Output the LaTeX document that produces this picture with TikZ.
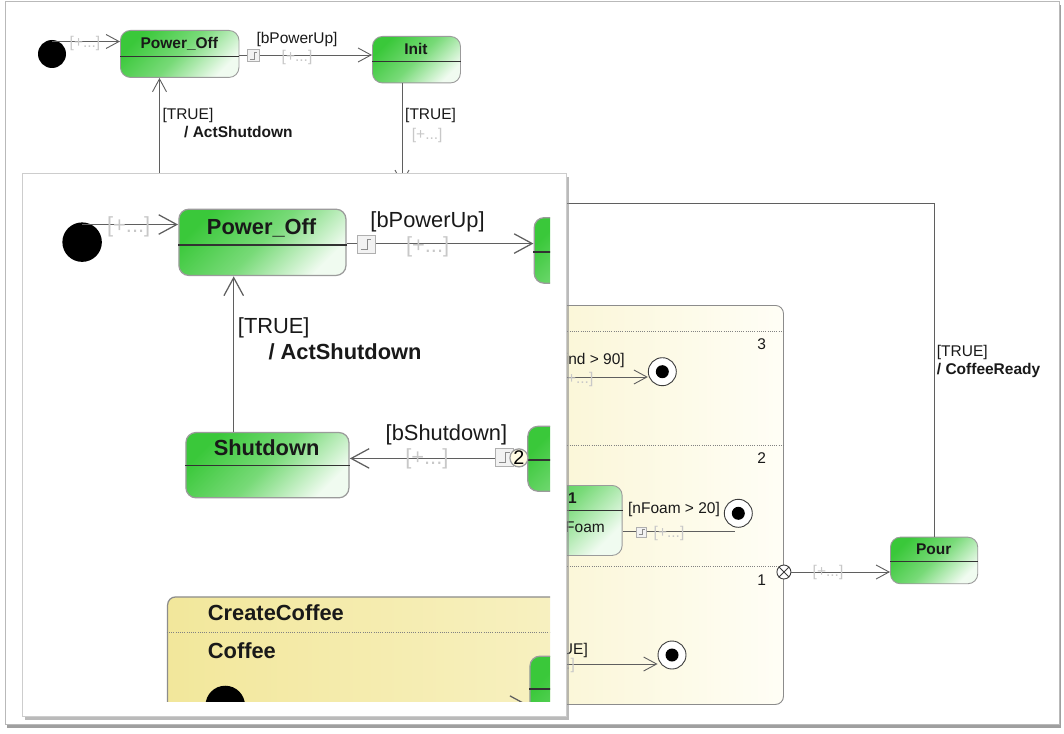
\documentclass[tikz,border=0pt]{standalone}
\usepackage{fontspec}
\setmainfont{Liberation Sans}
\usetikzlibrary{arrows.meta,shadows}
\definecolor{gA}{RGB}{58,200,58}
\definecolor{gM}{RGB}{120,218,120}
\definecolor{gB}{RGB}{240,251,240}
\definecolor{yA}{RGB}{242,231,155}
\definecolor{yB}{RGB}{255,254,246}
\definecolor{stb}{RGB}{155,155,155}
\definecolor{cb}{RGB}{140,140,140}
\definecolor{dv}{RGB}{50,50,50}
\definecolor{dt}{RGB}{130,130,130}
\definecolor{lin}{RGB}{95,95,95}
\definecolor{lgray}{RGB}{200,200,200}
\definecolor{txt}{RGB}{25,25,25}
\definecolor{fb}{RGB}{60,60,60}
\definecolor{pf}{RGB}{255,251,228}
\definecolor{sqb}{RGB}{175,175,175}
\definecolor{sqf}{RGB}{242,242,242}
\definecolor{sqg}{RGB}{140,140,140}
\definecolor{frm}{RGB}{185,185,185}
\definecolor{pnl}{RGB}{205,205,205}

\newcommand\lwc{0.9pt}
\newcommand\arl{13pt}
\newcommand\arw{14pt}
\newcommand\fsz{\fontsize{15.5pt}{18pt}\selectfont}

\tikzset{
 stbox/.style={draw=stb, line width=\lwc, rounded corners=10pt, left color=gA, right color=gB, middle color=gM, shading angle=45, inner sep=0pt, anchor=north west},
 comp/.style={draw=cb, line width=\lwc, rounded corners=8pt, left color=yA, right color=yB, inner sep=0pt, anchor=north west},
 div/.style={draw=dv, line width=\lwc},
 dotln/.style={draw=dt, line width=\lwc, dash pattern=on 1pt off 1.2pt},
 tr/.style={draw=lin, line width=\lwc, -{Straight Barb[length=\arl,width=\arw]}},
 trn/.style={draw=lin, line width=\lwc},
 ttl/.style={font=\bfseries\fsz, text=txt, inner sep=0pt},
 lbl/.style={font=\fsz, text=txt, inner sep=0pt},
 ph/.style={font=\fsz, text=lgray, inner sep=0pt},
 idot/.style={circle, fill=black, minimum size=28pt, inner sep=0pt},
 fin/.style={circle, draw=fb, line width=\lwc, fill=white, minimum size=28pt, inner sep=0pt},
 exitp/.style={circle, draw=fb, line width=\lwc, fill=white, minimum size=14pt, inner sep=0pt},
 prio/.style={circle, draw=stb, line width=\lwc, fill=pf, minimum size=12.8pt, inner sep=0pt, font=\fontsize{14pt}{16pt}\selectfont},
 sqst/.style={draw=sqb, fill=sqf, line width=0.8pt},
 sqgl/.style={draw=sqg, line width=0.8pt},
}

\newcommand\stepsym[3]{%
 \draw[sqst] (#1-#3,#2-#3) rectangle (#1+#3,#2+#3);
 \draw[sqgl] (#1-#3*0.6,#2+#3*0.55) -- (#1+#3*0.1,#2+#3*0.55) -- (#1+#3*0.1,#2-#3*0.55) -- (#1+#3*0.6,#2-#3*0.55);}

\newcommand\drawdiagram{%
% ---- composite CreateCoffee
\node[comp, minimum width=671pt, minimum height=399pt] (CC) at (112,305) {};
\node[ttl, anchor=west] (CCt) at (141,317) {CreateCoffee};
\draw[dotln] (CC.west |- 0,331) -- (CC.east |- 0,331);
\draw[dotln] (CC.west |- 0,445) -- (CC.east |- 0,445);
\draw[dotln] (CC.west |- 0,566.7) -- (CC.east |- 0,566.7);
\node[lbl] (n3) at (761.7,344) {3};
\node[lbl] (n2) at (761.7,458) {2};
\node[lbl] (n1) at (761.7,580) {1};
\node[ttl, anchor=west] (rg3) at (141,344) {Coffee};
% region 3
\node[idot] (I3) at (153.5,382.6) {};
\node[stbox, minimum width=120pt, minimum height=48pt] (S3) at (369,347) {};
\draw[div] (S3.west |- 0,371) -- (S3.east |- 0,371);
\draw[tr] (I3.east) -- (S3.west |- I3.east);
\node[fin] (F3) at (662.3,371.7) {};
\fill[black] (F3) circle (6.5pt);
\draw[tr] (S3.east |- 0,377) -- (F3.west |- 0,377);
\node[lbl, anchor=east] (l3) at (625,360.7) {[nGrind > 90]};
\node[ph] (p3) at (578,379) {[+...]};
% region 2
\node[stbox, minimum width=141.7pt, minimum height=70pt] (S2) at (480,485) {};
\draw[div] (S2.west |- 0,510.7) -- (S2.east |- 0,510.7);
\node[ttl, anchor=east] (s2t) at (577,498) {1};
\node[lbl, anchor=east] (s2a) at (605,527.3) {Foam};
\node[fin] (F2) at (738.3,513.3) {};
\fill[black] (F2) circle (6.5pt);
\coordinate (F2in) at (735,531.7);
\draw[trn] (S2.east |- 0,531.7) -- (F2in);
\stepsym{641.5}{532}{5}
\node[lbl] (l2) at (674,509.3) {[nFoam > 20]};
\node[ph] (p2) at (669,533) {[+...]};
% region 1
\coordinate (R1s) at (520,664);
\node[fin] (F1) at (672,655) {};
\fill[black] (F1) circle (6.5pt);
\draw[tr] (R1s) -- (F1.west |- R1s);
\node[lbl, anchor=east] (l1) at (588,650) {[TRUE]};
\node[ph, anchor=east] (p1) at (575,665) {[+...]};
% exit point and Pour
\node[exitp] (EX) at (CC.east |- 0,572) {};
\draw[line width=\lwc, draw=fb] (EX.north east) -- (EX.south west) (EX.north west) -- (EX.south east);
\node[stbox, minimum width=87.3pt, minimum height=46.6pt] (PR) at (890,536.7) {};
\node[ttl] (PRt) at (933.7,549) {Pour};
\draw[div] (PR.west |- 0,561.7) -- (PR.east |- 0,561.7);
\draw[tr] (EX.east) -- (PR.west |- EX.east);
\node[ph] (pex) at (828,572) {[+...]};
% ---- top states
\node[idot] (I0) at (52,54) {};
\node[stbox, minimum width=118.5pt, minimum height=47pt] (PO) at (120,30) {};
\node[ttl] (POt) at (179.3,44) {Power\_Off};
\draw[div] (PO.west |- 0,56) -- (PO.east |- 0,56);
\node[stbox, minimum width=88pt, minimum height=46.5pt] (IN) at (372,36) {};
\node[ttl] (INt) at (416,48.5) {Init};
\draw[div] (IN.west |- 0,61) -- (IN.east |- 0,61);
\node[stbox, minimum width=90pt, minimum height=46pt] (ID) at (367.5,184) {};
\draw[div] (ID.west |- 0,208.5) -- (ID.east |- 0,208.5);
\node[stbox, minimum width=115.6pt, minimum height=46.3pt] (SD) at (125,188.4) {};
\node[ttl] (SDt) at (182.8,200) {Shutdown};
\draw[div] (SD.west |- 0,212.6) -- (SD.east |- 0,212.6);
% ---- transitions
\draw[tr] (I0.north |- 0,41.5) -- (PO.west |- 0,41.5);
\node[ph] (p0) at (85,43) {[+...]};
\draw[tr] (PO.east |- 0,55) -- (IN.west |- 0,55);
\stepsym{253.5}{55.5}{6.2}
\node[lbl] (lpu) at (297,39.3) {[bPowerUp]};
\node[ph] (ppu) at (297,57) {[+...]};
\draw[tr] (402,0 |- IN.south) -- (402,0 |- ID.north);
\node[lbl, anchor=west] (lin1) at (405,115.7) {[TRUE]};
\node[ph, anchor=west] (pin1) at (411.7,135) {[+...]};
\draw[tr] (159.5,0 |- SD.north) -- (159.5,0 |- PO.south);
\node[lbl, anchor=west] (lsd1) at (162.3,115) {[TRUE]};
\node[ttl, anchor=west] (lsd2) at (184,131.7) {/ ActShutdown};
\draw[tr] (ID.west |- 0,207.4) -- (SD.east |- 0,207.4);
\stepsym{351.5}{206.5}{6.3}
\node[prio] (PRI) at (361.8,207) {2};
\node[lbl] (lbs) at (310.4,190.8) {[bShutdown]};
\node[ph] (pbs) at (296.5,207.5) {[+...]};
\draw[tr] (934,0 |- PR.north) |- (ID.east |- 0,203);
\node[lbl, anchor=west] (lcr1) at (936.7,352.3) {[TRUE]};
\node[ttl, anchor=west] (lcr2) at (936.7,370) {/ CoffeeReady};
}

\begin{document}
\begin{tikzpicture}[x=1pt,y=-1pt]
\useasboundingbox (0,0) rectangle (1064,733);
\fill[white] (0,0) rectangle (1064,733);
\path[draw=frm, line width=1pt, fill=white, drop shadow={shadow xshift=1.5pt, shadow yshift=-3.5pt, fill=black!50, opacity=0.75}] (5,2) rectangle (1059,724);
\drawdiagram
\path[draw=pnl, line width=0.8pt, fill=white, drop shadow={shadow xshift=3pt, shadow yshift=-3.5pt, fill=black!45, opacity=0.6}] (22,173) rectangle (566,716);
\begin{scope}
\clip (22.5,173.5) rectangle (550,701.7);
\begin{scope}[shift={(8.8,166)}, scale=1.41, transform shape]
\renewcommand\lwc{1.25pt}
\renewcommand\arl{18pt}
\renewcommand\arw{19.5pt}
\drawdiagram
\end{scope}
\end{scope}
\end{tikzpicture}
\end{document}
